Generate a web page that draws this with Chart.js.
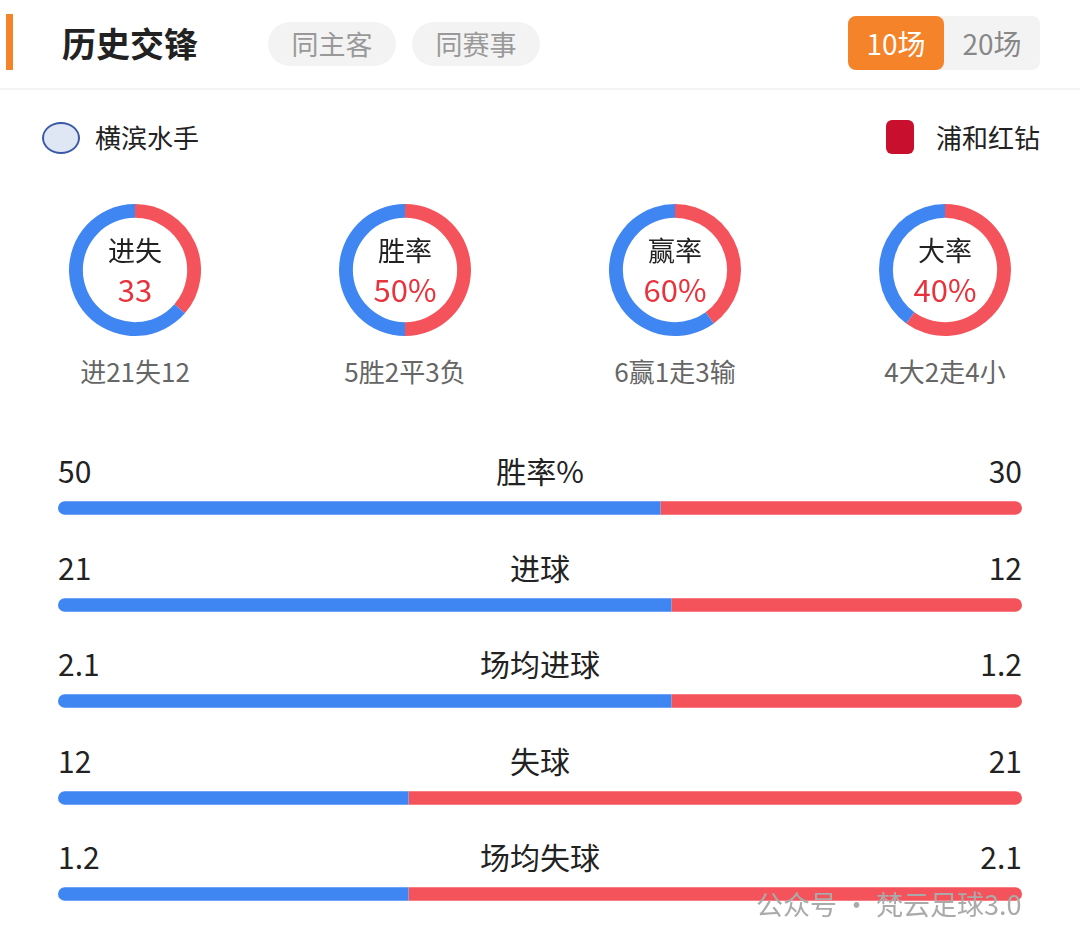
<!DOCTYPE html>
<html><head><meta charset="utf-8">
<script src="https://cdn.jsdelivr.net/npm/chart.js@4"></script>
<style>
body{margin:0;width:1080px;height:946px;background:#fff;font-family:"Noto Sans CJK SC","Noto Sans",sans-serif;position:relative;overflow:hidden;color:#222}
.abs{position:absolute}
.pill{position:absolute;top:22px;height:44px;line-height:44px;border-radius:22px;background:#f3f3f3;color:#999;font-size:27px;text-align:center}
.ring{position:absolute;top:204px;width:132px;height:132px}
.ring .t{position:absolute;left:0;width:132px;text-align:center}
.cap{position:absolute;top:352px;width:270px;text-align:center;font-size:26px;color:#666}
.row{position:absolute;left:58px;width:964px;font-size:30px}
</style></head><body>
<div class="abs" style="left:6px;top:14px;width:7px;height:56px;background:#f5832a"></div>
<div class="abs" style="left:62px;top:18px;font-size:34px;font-weight:bold">历史交锋</div>
<div class="pill" style="left:268px;width:128px">同主客</div>
<div class="pill" style="left:412px;width:128px">同赛事</div>
<div class="abs" style="left:848px;top:16px;width:192px;height:54px;border-radius:8px;background:#f3f3f3"></div>
<div class="abs" style="left:848px;top:16px;width:96px;height:54px;line-height:54px;border-radius:8px;background:#f5832a;color:#fff;font-size:28px;text-align:center">10场</div>
<div class="abs" style="left:944px;top:16px;width:96px;height:54px;line-height:54px;color:#888;font-size:28px;text-align:center">20场</div>
<div class="abs" style="left:0;top:88px;width:1080px;height:2px;background:#f4f4f4"></div>
<div class="abs" style="left:42px;top:122px;width:34px;height:28px;border-radius:50%;background:#dfe6f4;border:2px solid #3a5aa8"></div>
<div class="abs" style="left:95px;top:118px;font-size:26px">横滨水手</div>
<div class="abs" style="left:886px;top:120px;width:28px;height:34px;border-radius:6px;background:#c8102e"></div>
<div class="abs" style="left:936px;top:118px;font-size:26px">浦和红钻</div>
<div id="rings"></div>
<div id="rows"></div>
<div class="abs" style="left:756px;top:884px;font-size:27px;color:#aaa">公众号 · 梵云足球3.0</div>
<script>
const ringLabels = ['进失', '胜率', '赢率', '大率'];
const ringValues = ['33', '50%', '60%', '40%'];
const ringCaptions = ['进21失12', '5胜2平3负', '6赢1走3输', '4大2走4小'];
const ringRed = [12, 5, 4, 6];
const ringBlue = [21, 5, 6, 4];
const rowLabels = ['胜率%', '进球', '场均进球', '失球', '场均失球'];
const leftVals = [50, 21, 2.1, 12, 1.2];
const rightVals = [30, 12, 1.2, 21, 2.1];
const BLUE = '#3f86f2', RED = '#f5535b';

const rings = document.getElementById('rings');
ringLabels.forEach((lab, i) => {
    const cx = 135 + i * 270;
    const d = document.createElement('div');
    d.className = 'ring';
    d.style.left = (cx - 66) + 'px';
    d.innerHTML = '<canvas width="132" height="132"></canvas>' +
        `<div class="t" style="top:26px;font-size:27px">${lab}</div>` +
        `<div class="t" style="top:62px;font-size:31px;color:#e8333c">${ringValues[i]}</div>`;
    rings.appendChild(d);
    const c = document.createElement('div');
    c.className = 'cap';
    c.style.left = (cx - 135) + 'px';
    c.textContent = ringCaptions[i];
    rings.appendChild(c);
    new Chart(d.querySelector('canvas'), {
        type: 'doughnut',
        data: {datasets: [{data: [ringRed[i], ringBlue[i]], backgroundColor: [RED, BLUE], borderWidth: 0}]},
        options: {responsive: false, animation: false, cutout: '79%', events: [],
            plugins: {legend: {display: false}, tooltip: {enabled: false}}}
    });
});

const rows = document.getElementById('rows');
rowLabels.forEach((lab, i) => {
    const top = 448 + i * 96.5;
    const d = document.createElement('div');
    d.className = 'row';
    d.style.top = top + 'px';
    d.innerHTML = `<div style="position:absolute;left:0;top:0">${leftVals[i]}</div>` +
        `<div style="position:absolute;left:0;width:964px;top:0;text-align:center">${lab}</div>` +
        `<div style="position:absolute;right:0;top:0">${rightVals[i]}</div>` +
        '<canvas width="964" height="16" style="position:absolute;left:0;top:52px"></canvas>';
    rows.appendChild(d);
    new Chart(d.querySelector('canvas'), {
        type: 'bar',
        data: {labels: [''], datasets: [
            {data: [leftVals[i]], backgroundColor: BLUE, borderSkipped: false,
             borderRadius: {topLeft: 8, bottomLeft: 8, topRight: 0, bottomRight: 0}},
            {data: [rightVals[i]], backgroundColor: RED, borderSkipped: false,
             borderRadius: {topLeft: 0, bottomLeft: 0, topRight: 8, bottomRight: 8}}
        ]},
        options: {indexAxis: 'y', responsive: false, animation: false, events: [],
            layout: {padding: 0},
            datasets: {bar: {barPercentage: 1, categoryPercentage: 0.85}},
            scales: {x: {stacked: true, display: false, min: 0, max: leftVals[i] + rightVals[i]},
                     y: {stacked: true, display: false}},
            plugins: {legend: {display: false}, tooltip: {enabled: false}}}
    });
});
</script>
</body></html>
